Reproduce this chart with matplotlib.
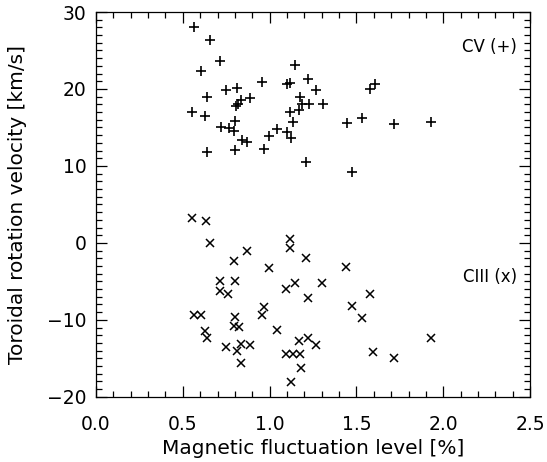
import matplotlib
matplotlib.use("Agg")
import matplotlib.pyplot as plt
from matplotlib.ticker import MultipleLocator

# Magnetic fluctuation level [%] and rotation velocity [km/s]
cv_x = [0.565, 0.657, 0.714, 0.607, 1.146, 0.954, 1.098, 1.117, 1.223, 1.265,
        0.749, 0.810, 0.637, 0.887, 0.833, 0.820, 0.806, 1.175, 1.185, 1.229,
        1.306, 0.555, 0.628, 1.117, 1.171, 0.801, 1.137, 0.720, 0.768, 0.797,
        1.045, 1.098, 0.997, 1.121, 0.839, 0.868, 0.641, 0.801, 0.968, 1.210,
        1.607, 1.578, 1.444, 1.530, 1.718, 1.928, 1.473]
cv_y = [28.0, 26.3, 23.6, 22.4, 23.1, 20.9, 20.7, 20.8, 21.3, 19.9,
        19.9, 20.1, 19.0, 18.8, 18.6, 18.1, 17.8, 19.0, 18.1, 18.1,
        18.0, 17.0, 16.5, 17.0, 17.3, 15.8, 15.7, 15.1, 14.9, 14.5,
        14.8, 14.4, 13.9, 13.6, 13.4, 13.1, 11.8, 12.1, 12.2, 10.5,
        20.7, 20.0, 15.6, 16.2, 15.4, 15.7, 9.2]

ciii_x = [0.555, 0.634, 0.657, 1.117, 1.117, 0.868, 1.210, 0.797, 0.997, 0.714,
          0.801, 1.146, 1.304, 0.714, 0.762, 1.094, 1.223, 0.968, 0.954, 0.565,
          0.605, 0.801, 0.797, 0.826, 1.045, 0.628, 0.641, 1.171, 1.223, 1.267,
          0.749, 0.833, 0.810, 0.887, 1.093, 1.133, 1.175, 0.835, 1.181, 1.121,
          1.440, 1.578, 1.473, 1.530, 1.928, 1.598, 1.718]
ciii_y = [3.2, 2.9, 0.0, 0.5, -0.7, -1.1, -1.9, -2.3, -3.2, -4.9,
          -4.9, -5.2, -5.2, -6.2, -6.6, -6.0, -7.1, -8.3, -9.3, -9.4,
          -9.3, -9.6, -10.8, -10.9, -11.3, -11.4, -12.4, -12.8, -12.4, -13.3,
          -13.5, -13.1, -14.0, -13.3, -14.4, -14.4, -14.4, -15.6, -16.3, -18.1,
          -3.1, -6.6, -8.2, -9.8, -12.4, -14.2, -15.0]

x_ticks = [0.0, 0.5, 1.0, 1.5, 2.0, 2.5]
y_ticks = [-20, -10, 0, 10, 20, 30]

plt.rcParams['font.family'] = ['DejaVu Sans']
fig = plt.figure(figsize=(5.47, 4.62), dpi=100)
ax = fig.add_axes([0.1755, 0.141, 0.7935, 0.833])

ax.plot(cv_x, cv_y, linestyle='none', marker='+', markersize=7,
        markeredgewidth=1.2, color='black')
ax.plot(ciii_x, ciii_y, linestyle='none', marker='x', markersize=5.5,
        markeredgewidth=1.1, color='black')

ax.set_xlim(0, 2.5)
ax.set_ylim(-20, 30)
ax.set_xticks(x_ticks)
ax.set_xticklabels([f"{t:.1f}" for t in x_ticks])
ax.set_yticks(y_ticks)
ax.xaxis.set_minor_locator(MultipleLocator(0.1))
ax.yaxis.set_minor_locator(MultipleLocator(1))
ax.tick_params(which='both', direction='in', top=True, right=True,
               labelsize=13.5, width=0.9)
ax.tick_params(axis='x', which='major', pad=13)
ax.tick_params(axis='y', which='major', pad=7)
ax.tick_params(which='major', length=8)
ax.tick_params(which='minor', length=4)
for s in ax.spines.values():
    s.set_linewidth(0.9)

ax.text(2.425, 25.5, "CV (+)", ha='right', va='center', fontsize=12)
ax.text(2.425, -4.4, "CIII (x)", ha='right', va='center', fontsize=12)

ax.set_xlabel("Magnetic fluctuation level [%]", fontsize=14.5, labelpad=4)
ax.set_ylabel("Toroidal rotation velocity [km/s]", fontsize=14.5)
ax.yaxis.set_label_coords(-0.16, 0.5)

fig.savefig("out.png", dpi=100)
